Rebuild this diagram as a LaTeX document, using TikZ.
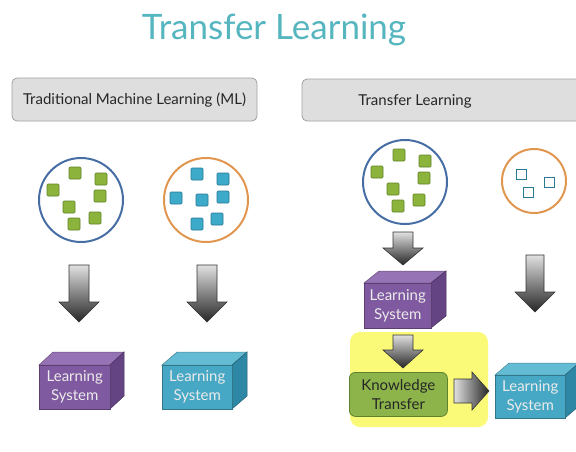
\documentclass[tikz,border=0pt]{standalone}
\usepackage{fontspec}
\setmainfont{Lato}
\usetikzlibrary{shapes.geometric}
\definecolor{titlec}{RGB}{86,182,192}
\definecolor{hdrfill}{RGB}{222,222,222}
\definecolor{hdrdraw}{RGB}{160,160,160}
\definecolor{circblue}{RGB}{70,110,165}
\definecolor{circorange}{RGB}{225,150,80}
\definecolor{sqgreen}{RGB}{140,180,60}
\definecolor{sqgreend}{RGB}{95,130,40}
\definecolor{sqblue}{RGB}{60,170,200}
\definecolor{sqblued}{RGB}{40,120,150}
\definecolor{purpF}{RGB}{128,90,160}
\definecolor{purpT}{RGB}{150,115,180}
\definecolor{purpS}{RGB}{100,68,130}
\definecolor{blueF}{RGB}{70,168,196}
\definecolor{blueT}{RGB}{100,188,212}
\definecolor{blueS}{RGB}{45,135,165}
\definecolor{ktfill}{RGB}{140,180,75}
\definecolor{ktdraw}{RGB}{95,130,45}
\definecolor{yel}{RGB}{250,250,120}
\tikzset{
  hdr/.style={draw=hdrdraw, fill=hdrfill, rounded corners=5pt, line width=0.8pt},
  gsq/.style={draw=sqgreend, fill=sqgreen, minimum size=12pt, inner sep=0pt, line width=0.6pt, rounded corners=1pt},
  bsq/.style={draw=sqblued, fill=sqblue, minimum size=12pt, inner sep=0pt, line width=0.6pt, rounded corners=1pt},
  hsq/.style={draw=sqblued, fill=white, minimum size=10pt, inner sep=0pt, line width=0.8pt},
  blockarrow/.style={draw=black!80, line width=0.6pt, top color=black!12, bottom color=black!85},
  harrow/.style={draw=black!80, line width=0.6pt, left color=black!12, right color=black!85},
  cubetext/.style={text=white!92!black, font=\fontsize{15}{19}\selectfont, align=center},
}
% \downarr{cx}{top}{headstart}{tip}{shafthalf}{headhalf}
\newcommand{\downarr}[6]{%
  \path[blockarrow] (#1-#5,#2) -- (#1+#5,#2) -- (#1+#5,#3) -- (#1+#6,#3) -- (#1,#4) -- (#1-#6,#3) -- (#1-#5,#3) -- cycle;}
% \mycube{front}{x1}{y1}{x2}{y2}{dx}{dy}{side}{top}
\newcommand{\mycube}[9]{%
  \path[fill=#9!100, draw=#9!70!black, line width=0.5pt] (#2,#3) -- (#2+#6,#3-#7) -- (#4+#6,#3-#7) -- (#4,#3) -- cycle;
  \path[fill=#8, draw=#8!70!black, line width=0.5pt] (#4,#3) -- (#4+#6,#3-#7) -- (#4+#6,#5-#7) -- (#4,#5) -- cycle;
  \node[fill=#1, draw=#1!70!black, line width=0.5pt, minimum width=#4pt-#2pt, minimum height=#5pt-#3pt, anchor=north west, inner sep=0pt, cubetext] (c#2) at (#2,#3) {Learning\\System};}
\begin{document}
\begin{tikzpicture}[x=1pt, y=-1pt]
\useasboundingbox (0,0) rectangle (576,451);
% title
\node[text=titlec, font=\fontsize{35}{37}\selectfont] (title) at (274,30) {Transfer Learning};
% headers
\path[hdr] (12,78) rectangle (257,121);
\node[text=black!85, font=\fontsize{15}{18}\selectfont] (h1) at (134.5,100) {Traditional Machine Learning (ML)};
\path[hdr] (302,79) rectangle (590,121);
\node[text=black!85, font=\fontsize{15}{18}\selectfont] (h2) at (415,101) {Transfer Learning};
% circles
\node[circle, draw=circblue, line width=2pt, minimum size=84pt, inner sep=0pt] (c1) at (81,200) {};
\node[circle, draw=circorange, line width=2pt, minimum size=84pt, inner sep=0pt] (c2) at (206,200) {};
\node[circle, draw=circblue, line width=2pt, minimum size=84pt, inner sep=0pt] (c3) at (405,182) {};
\node[circle, draw=circorange, line width=2pt, minimum size=64pt, inner sep=0pt] (c4) at (534,181) {};
% squares
\foreach \dx/\dy [count=\i] in {-6/-27,20/-21,-28/-10,19/-4,-12/7,14/18,-7/24}{
  \node[gsq] (ga\i) at (81+\dx,200+\dy) {};
  \node[gsq] (gb\i) at (405+\dx,182+\dy) {};
}
\foreach \dx/\dy [count=\i] in {-9/-26,17/-21,-30/-2,-4/0,17/-3,11/19,-9/24}{
  \node[bsq] (ba\i) at (206+\dx,200+\dy) {};
}
\node[hsq] (h1s) at (521,174) {};
\node[hsq] (h2s) at (549,182) {};
\node[hsq] (h3s) at (528,192) {};
% arrows
\downarr{79}{265}{302}{322}{10}{20}
\downarr{207}{265}{302}{322}{10}{20}
\downarr{403}{232}{248}{265}{10}{20}
\downarr{535}{255}{292}{312}{9}{20}
% yellow box
\path[fill=yel, rounded corners=10pt] (350,332) rectangle (488,427);
\downarr{403}{335}{350}{368}{10}{20}
\path[harrow] (454,379) -- (472,379) -- (472,372) -- (489,391) -- (472,410) -- (472,403) -- (454,403) -- cycle;
\node[fill=ktfill, draw=ktdraw, line width=0.8pt, rounded corners=6pt, minimum width=98pt, minimum height=44pt, anchor=north west, inner sep=0pt, align=center, text=black!85, font=\fontsize{15}{19}\selectfont] (kt) at (349,372) {Knowledge\\Transfer};
% cubes
\mycube{purpF}{39}{365}{110}{409}{14}{13}{purpS}{purpT}
\mycube{blueF}{162}{365}{232}{409}{15}{13}{blueS}{blueT}
\mycube{purpF}{364}{283}{431}{328}{15}{12}{purpS}{purpT}
\mycube{blueF}{495}{375}{565}{418}{14}{12}{blueS}{blueT}
\end{tikzpicture}
\end{document}
